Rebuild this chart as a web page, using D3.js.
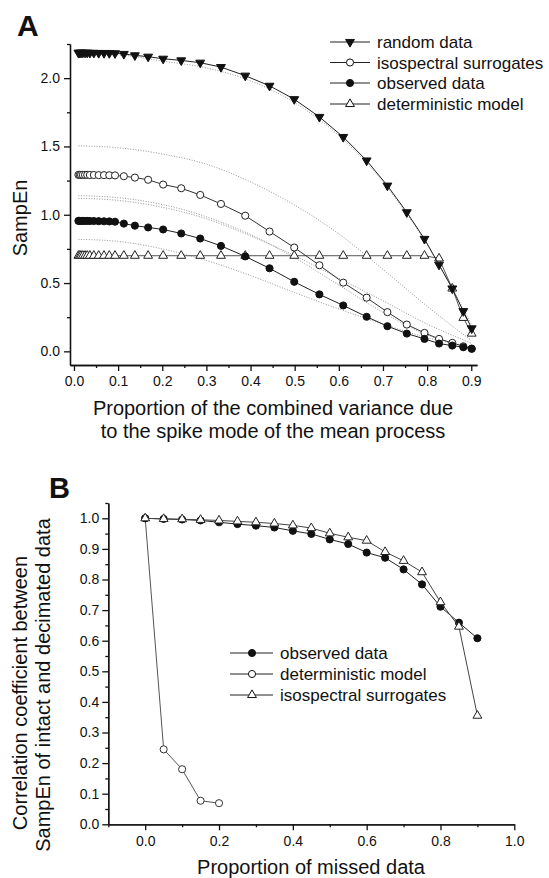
<!DOCTYPE html>
<html lang="en">
<head>
<meta charset="utf-8">
<title>SampEn</title>
<script src="https://d3js.org/d3.v7.min.js"></script>
<style>
  body { margin: 0; background: #fff; }
  svg text { font-family: "Liberation Sans", Arial, sans-serif; fill: #111; }
</style>
</head>
<body>
<svg id="chart" width="549" height="878"></svg>
<script>
// ---- panel A data ----
var xA = [0.010, 0.013, 0.016, 0.020, 0.025, 0.030, 0.036, 0.045, 0.056, 0.068, 0.080,
          0.093, 0.113, 0.138, 0.168, 0.202, 0.243, 0.286, 0.333, 0.388, 0.443, 0.499,
          0.556, 0.610, 0.663, 0.710, 0.754, 0.794, 0.827, 0.857, 0.882, 0.901];
var randomA = [2.186, 2.186, 2.186, 2.186, 2.186, 2.186, 2.185, 2.185, 2.184, 2.184, 2.183,
               2.182, 2.177, 2.167, 2.157, 2.142, 2.130, 2.113, 2.081, 2.018, 1.944, 1.846,
               1.716, 1.569, 1.397, 1.213, 1.018, 0.823, 0.634, 0.460, 0.294, 0.168];
var isoA = [1.292, 1.292, 1.292, 1.292, 1.292, 1.292, 1.291, 1.291, 1.290, 1.290, 1.289,
            1.288, 1.282, 1.272, 1.256, 1.221, 1.194, 1.145, 1.079, 0.993, 0.877, 0.760,
            0.630, 0.503, 0.393, 0.287, 0.196, 0.135, 0.091, 0.062, 0.037, 0.018];
var obsA = [0.955, 0.955, 0.955, 0.955, 0.955, 0.955, 0.954, 0.954, 0.953, 0.952, 0.951,
            0.949, 0.935, 0.920, 0.907, 0.892, 0.863, 0.826, 0.772, 0.695, 0.608, 0.509,
            0.417, 0.336, 0.253, 0.184, 0.130, 0.091, 0.057, 0.042, 0.030, 0.020];
var detA = [0.700, 0.700, 0.700, 0.700, 0.700, 0.700, 0.700, 0.700, 0.700, 0.700, 0.700,
            0.700, 0.700, 0.700, 0.700, 0.700, 0.700, 0.700, 0.700, 0.700, 0.700, 0.700,
            0.700, 0.700, 0.700, 0.700, 0.700, 0.700, 0.680, 0.460, 0.245, 0.130];

// dotted bands (read at coarse grid)
var xBand = [0.01, 0.1, 0.2, 0.3, 0.4, 0.5, 0.6, 0.7, 0.8, 0.9];
var bandRandom = [2.175, 2.170, 2.125, 2.075, 1.980, 1.820, 1.580, 1.240, 0.780, 0.200];
var bandIsoHi = [1.505, 1.490, 1.445, 1.370, 1.240, 1.070, 0.860, 0.600, 0.330, 0.080];
var bandIsoLo = [1.140, 1.125, 1.075, 0.985, 0.855, 0.685, 0.485, 0.285, 0.120, 0.030];
var bandObsHi = [1.120, 1.105, 1.055, 0.970, 0.845, 0.700, 0.535, 0.370, 0.200, 0.060];
var bandObsLo = [0.820, 0.805, 0.750, 0.665, 0.555, 0.430, 0.310, 0.200, 0.100, 0.030];

var xTicksA = [0, 0.1, 0.2, 0.3, 0.4, 0.5, 0.6, 0.7, 0.8, 0.9];
var yTicksA = [0, 0.5, 1.0, 1.5, 2.0];
var legendA = ["random data", "isospectral surrogates", "observed data", "deterministic model"];

// ---- panel B data ----
var xB = [0, 0.05, 0.1, 0.15, 0.2, 0.25, 0.3, 0.35, 0.4, 0.45, 0.5, 0.55, 0.6, 0.65, 0.7,
          0.75, 0.8, 0.85, 0.9];
var obsB = [1.000, 0.998, 0.996, 0.993, 0.987, 0.981, 0.976, 0.970, 0.959, 0.949, 0.931,
            0.916, 0.888, 0.871, 0.833, 0.784, 0.711, 0.659, 0.608];
var isoB = [1.000, 0.998, 0.997, 0.995, 0.993, 0.990, 0.987, 0.983, 0.977, 0.968, 0.951,
            0.938, 0.927, 0.890, 0.861, 0.824, 0.726, 0.646, 0.355];
var xDetB = [0, 0.05, 0.1, 0.15, 0.2];
var detB = [1.000, 0.245, 0.180, 0.077, 0.069];

var xTicksB = [0, 0.2, 0.4, 0.6, 0.8, 1.0];
var yTicksB = [0, 0.1, 0.2, 0.3, 0.4, 0.5, 0.6, 0.7, 0.8, 0.9, 1.0];
var legendB = ["observed data", "deterministic model", "isospectral surrogates"];

var svg = d3.select("#chart");
var fmt = d3.format(".1f");

var circ = d3.symbol().type(d3.symbolCircle).size(40)();
var tri = d3.symbol().type(d3.symbolTriangle).size(34)();

function drawAxes(g, x, y, xt, xminor, yt, yminor, xpad, ypad) {
  var h = y.range()[0];
  g.append("g").attr("transform", "translate(0," + h + ")")
    .call(d3.axisBottom(x).tickValues(xminor).tickSize(3).tickFormat("").tickSizeOuter(0));
  g.append("g").attr("transform", "translate(0," + h + ")")
    .call(d3.axisBottom(x).tickValues(xt).tickSize(6).tickPadding(xpad).tickFormat(fmt).tickSizeOuter(0));
  g.append("g").attr("transform", "translate(" + x.range()[0] + ",0)")
    .call(d3.axisLeft(y).tickValues(yminor).tickSize(3).tickFormat("").tickSizeOuter(0));
  g.append("g").attr("transform", "translate(" + x.range()[0] + ",0)")
    .call(d3.axisLeft(y).tickValues(yt).tickSize(6).tickPadding(ypad).tickFormat(fmt).tickSizeOuter(0));
  g.selectAll(".domain, .tick line").attr("stroke", "#111").attr("stroke-width", 1.3);
  g.selectAll(".tick text").style("font-size", "14px").attr("fill", "#111");
}

function series(g, x, y, xs, ys, mark, fill, stroke, lineColor, rot) {
  var pts = xs.map(function (d, i) { return [d, ys[i]]; });
  g.append("path").datum(pts)
    .attr("fill", "none").attr("stroke", lineColor).attr("stroke-width", 1)
    .attr("d", d3.line().x(function (d) { return x(d[0]); }).y(function (d) { return y(d[1]); }));
  g.selectAll(null).data(pts).enter().append("path")
    .attr("d", mark)
    .attr("transform", function (d) {
      return "translate(" + x(d[0]) + "," + y(d[1]) + ")" + (rot ? " rotate(180)" : "");
    })
    .attr("fill", fill).attr("stroke", stroke).attr("stroke-width", 1);
}

function legendRow(g, x0, x1, xm, xt, yc, mark, fill, rot, label) {
  g.append("line").attr("x1", x0).attr("x2", x1).attr("y1", yc).attr("y2", yc)
    .attr("stroke", "#222").attr("stroke-width", 1);
  g.append("path").attr("d", mark)
    .attr("transform", "translate(" + xm + "," + yc + ")" + (rot ? " rotate(180)" : ""))
    .attr("fill", fill).attr("stroke", "#111");
  g.append("text").attr("x", xt).attr("y", yc + 6).style("font-size", "17px").text(label);
}

// ================= Panel A =================
var gA = svg.append("g");
var xa = d3.scaleLinear().domain([-0.009, 0.913]).range([70, 477]);
var ya = d3.scaleLinear().domain([-0.1, 2.25]).range([365, 44]);

[bandRandom, bandIsoHi, bandIsoLo, bandObsHi, bandObsLo].forEach(function (b) {
  gA.append("path").datum(xBand.map(function (d, i) { return [d, b[i]]; }))
    .attr("fill", "none").attr("stroke", "#888").attr("stroke-width", 0.9)
    .attr("stroke-dasharray", "1,1.6")
    .attr("d", d3.line().curve(d3.curveMonotoneX)
      .x(function (d) { return xa(d[0]); }).y(function (d) { return ya(d[1]); }));
});

series(gA, xa, ya, xA, detA, tri, "#fff", "#222", "#555", false);
series(gA, xa, ya, xA, isoA, circ, "#fff", "#222", "#333", false);
series(gA, xa, ya, xA, obsA, circ, "#111", "#111", "#222", false);
series(gA, xa, ya, xA, randomA, tri, "#111", "#111", "#222", true);

drawAxes(gA, xa, ya, xTicksA, d3.range(0.05, 0.91, 0.1), yTicksA,
  [0.25, 0.75, 1.25, 1.75, 2.25], 5.5, 4);

var legA = gA.append("g");
legendRow(legA, 330, 370, 350, 377, 42, tri, "#111", true, legendA[0]);
legendRow(legA, 330, 370, 350, 377, 62.5, circ, "#fff", false, legendA[1]);
legendRow(legA, 330, 370, 350, 377, 83, circ, "#111", false, legendA[2]);
legendRow(legA, 330, 370, 350, 377, 104, tri, "#fff", false, legendA[3]);

gA.append("text").attr("x", 17).attr("y", 36).style("font-size", "30px")
  .style("font-weight", "bold").text("A");
gA.append("text").attr("transform", "translate(27,218) rotate(-90)")
  .attr("text-anchor", "middle").style("font-size", "20px").text("SampEn");
gA.append("text").attr("x", 273).attr("y", 415).attr("text-anchor", "middle")
  .style("font-size", "20px").text("Proportion of the combined variance due");
gA.append("text").attr("x", 273).attr("y", 437.5).attr("text-anchor", "middle")
  .style("font-size", "20px").text("to the spike mode of the mean process");

// ================= Panel B =================
var gB = svg.append("g");
var xb = d3.scaleLinear().domain([-0.1, 1.0]).range([108.3, 514.3]);
var yb = d3.scaleLinear().domain([0, 1.05]).range([824.3, 503]);

series(gB, xb, yb, xDetB, detB, circ, "#fff", "#333", "#555", false);
series(gB, xb, yb, xB, obsB, circ, "#111", "#111", "#222", false);
series(gB, xb, yb, xB, isoB, tri, "#fff", "#222", "#444", false);

drawAxes(gB, xb, yb, xTicksB, [-0.1, 0.1, 0.3, 0.5, 0.7, 0.9], yTicksB,
  d3.range(0.05, 1.06, 0.1), 5.8, 3);

var legB = gB.append("g");
legendRow(legB, 230, 273, 252, 280, 653, circ, "#111", false, legendB[0]);
legendRow(legB, 230, 273, 252, 280, 674, circ, "#fff", false, legendB[1]);
legendRow(legB, 230, 273, 252, 280, 695, tri, "#fff", false, legendB[2]);

gB.append("text").attr("x", 49).attr("y", 498).style("font-size", "29px")
  .style("font-weight", "bold").text("B");
gB.append("text").attr("transform", "translate(27,693) rotate(-90)")
  .attr("text-anchor", "middle").style("font-size", "20px").text("Correlation coefficient between");
gB.append("text").attr("transform", "translate(50,685) rotate(-90)")
  .attr("text-anchor", "middle").style("font-size", "20px").text("SampEn of intact and decimated data");
gB.append("text").attr("x", 311).attr("y", 874).attr("text-anchor", "middle")
  .style("font-size", "20px").text("Proportion of missed data");
</script>
</body>
</html>
